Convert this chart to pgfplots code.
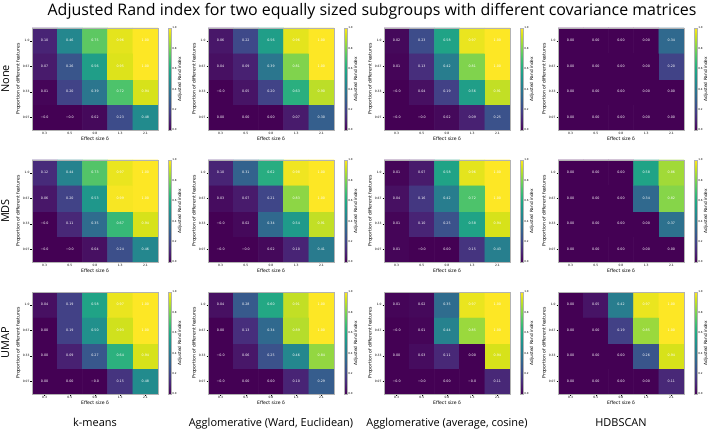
\documentclass[border=0pt]{standalone}
\usepackage{pgfplots}
\pgfplotsset{compat=1.18}
\usepackage{pgfplotstable}
\usepackage{fontspec}
\setmainfont{DejaVu Sans}
\newfontfamily\titlefont{Open Sans}

% ---------- data: x = effect size index, y = proportion index (0 = 0.07 ... 3 = 1.0), l = ARI
% (-0.004 stands for the small negative values that the chart prints as -0.0)
\pgfplotstableread{
x y l
0 0 -0.004
1 0 -0.004
2 0 0.02
3 0 0.23
4 0 0.48
0 1 0.01
1 1 0.20
2 1 0.39
3 1 0.72
4 1 0.94
0 2 0.07
1 2 0.26
2 2 0.56
3 2 0.95
4 2 1.00
0 3 0.10
1 3 0.46
2 3 0.75
3 3 0.96
4 3 1.00
}\tNoneKm
\pgfplotstableread{
x y l
0 0 0.00
1 0 0.00
2 0 0.00
3 0 0.07
4 0 0.30
0 1 -0.004
1 1 0.05
2 1 0.20
3 1 0.63
4 1 0.90
0 2 0.04
1 2 0.09
2 2 0.39
3 2 0.81
4 2 1.00
0 3 0.06
1 3 0.22
2 3 0.56
3 3 0.96
4 3 1.00
}\tNoneWard
\pgfplotstableread{
x y l
0 0 -0.004
1 0 -0.004
2 0 0.02
3 0 0.09
4 0 0.25
0 1 -0.004
1 1 0.04
2 1 0.19
3 1 0.56
4 1 0.91
0 2 0.01
1 2 0.13
2 2 0.42
3 2 0.81
4 2 1.00
0 3 0.02
1 3 0.23
2 3 0.58
3 3 0.97
4 3 1.00
}\tNoneAvg
\pgfplotstableread{
x y l
0 0 0.00
1 0 0.00
2 0 0.00
3 0 0.00
4 0 0.00
0 1 0.00
1 1 0.00
2 1 0.00
3 1 0.00
4 1 0.00
0 2 0.00
1 2 0.00
2 2 0.00
3 2 0.00
4 2 0.20
0 3 0.00
1 3 0.00
2 3 0.00
3 3 0.00
4 3 0.34
}\tNoneHdb
\pgfplotstableread{
x y l
0 0 -0.004
1 0 -0.004
2 0 0.04
3 0 0.24
4 0 0.46
0 1 -0.004
1 1 0.11
2 1 0.35
3 1 0.67
4 1 0.94
0 2 0.06
1 2 0.20
2 2 0.53
3 2 0.99
4 2 1.00
0 3 0.12
1 3 0.44
2 3 0.73
3 3 0.97
4 3 1.00
}\tMdsKm
\pgfplotstableread{
x y l
0 0 -0.004
1 0 -0.004
2 0 0.02
3 0 0.10
4 0 0.41
0 1 -0.004
1 1 0.02
2 1 0.34
3 1 0.54
4 1 0.91
0 2 0.03
1 2 0.07
2 2 0.21
3 2 0.83
4 2 1.00
0 3 0.10
1 3 0.31
2 3 0.62
3 3 0.98
4 3 1.00
}\tMdsWard
\pgfplotstableread{
x y l
0 0 0.01
1 0 -0.004
2 0 0.00
3 0 0.15
4 0 0.43
0 1 0.01
1 1 0.10
2 1 0.25
3 1 0.58
4 1 0.94
0 2 0.04
1 2 0.16
2 2 0.42
3 2 0.72
4 2 1.00
0 3 0.01
1 3 0.07
2 3 0.58
3 3 0.96
4 3 1.00
}\tMdsAvg
\pgfplotstableread{
x y l
0 0 0.00
1 0 0.00
2 0 0.00
3 0 0.00
4 0 0.00
0 1 0.00
1 1 0.00
2 1 0.00
3 1 0.00
4 1 0.37
0 2 0.00
1 2 0.00
2 2 0.00
3 2 0.34
4 2 0.82
0 3 0.00
1 3 0.00
2 3 0.00
3 3 0.58
4 3 0.86
}\tMdsHdb
\pgfplotstableread{
x y l
0 0 0.00
1 0 0.00
2 0 -0.004
3 0 0.15
4 0 0.48
0 1 0.00
1 1 0.09
2 1 0.27
3 1 0.64
4 1 0.94
0 2 0.00
1 2 0.19
2 2 0.50
3 2 0.93
4 2 1.00
0 3 0.04
1 3 0.19
2 3 0.58
3 3 0.97
4 3 1.00
}\tUmapKm
\pgfplotstableread{
x y l
0 0 -0.004
1 0 0.00
2 0 0.00
3 0 0.10
4 0 0.29
0 1 -0.004
1 1 0.06
2 1 0.25
3 1 0.46
4 1 0.84
0 2 0.00
1 2 0.13
2 2 0.34
3 2 0.89
4 2 1.00
0 3 0.04
1 3 0.28
2 3 0.60
3 3 0.91
4 3 1.00
}\tUmapWard
\pgfplotstableread{
x y l
0 0 -0.004
1 0 -0.004
2 0 0.00
3 0 -0.004
4 0 0.11
0 1 0.00
1 1 0.03
2 1 0.11
3 1 0.00
4 1 0.94
0 2 -0.004
1 2 0.01
2 2 0.44
3 2 0.85
4 2 1.00
0 3 0.01
1 3 0.02
2 3 0.35
3 3 0.97
4 3 1.00
}\tUmapAvg
\pgfplotstableread{
x y l
0 0 0.00
1 0 0.00
2 0 0.00
3 0 0.00
4 0 0.11
0 1 0.00
1 1 0.00
2 1 0.00
3 1 0.26
4 1 0.94
0 2 0.00
1 2 0.00
2 2 0.19
3 2 0.85
4 2 1.00
0 3 0.00
1 3 0.05
2 3 0.42
3 3 0.97
4 3 1.00
}\tUmapHdb

% label of a cell: the flag of pgf's float format is 2 for a negative number
\newcommand\arilabel{%
  \pgfmathfloatgetflagstomacro{\pgfplotspointmeta}{\ariflag}%
  \ifnum\ariflag=2 −0.0\else\pgfmathprintnumber[assume math mode=true,fixed,fixed zerofill,precision=2]{\pgfplotspointmeta}\fi}

\pgfplotsset{
  /pgf/number format/assume math mode=true,
  hm/.style={
    scale only axis, width=126bp, height=102bp, anchor=south west,
    xmin=-0.5, xmax=4.5, ymin=-0.5, ymax=3.5, enlargelimits=false,
    xtick={0,...,4}, xticklabels={0.3,0.5,0.8,1.3,2.1},
    ytick={0,...,3}, yticklabels={0.07,0.33,0.67,1.0},
    xtick pos=left, ytick pos=left,
    tick align=outside, major tick length=1.5bp,
    tick style={line width=0.3bp, black},
    ticklabel style={font=\fontsize{3}{3.5}\selectfont, inner sep=0.8bp},
    xlabel={Effect size δ}, ylabel={Proportion of different features},
    label style={font=\fontsize{4.6}{5}\selectfont},
    xlabel style={yshift=2bp}, ylabel style={yshift=-2bp},
    axis line style={draw=black!30, line width=0.4bp},
    axis on top,
    colormap/viridis, point meta min=0, point meta max=1,
    colorbar,
    colorbar style={
      at={(parent axis.north east)}, anchor=north west, xshift=1.5bp,
      scale only axis, width=3.5bp, height=102bp,
      ytick={0,0.2,0.4,0.6,0.8,1}, yticklabels={0.0,0.2,0.4,0.6,0.8,1.0},
      yticklabel pos=right, ylabel near ticks,
      yticklabel style={font=\fontsize{2.7}{3}\selectfont, inner sep=0.6bp},
      major tick length=1bp, tick style={line width=0.3bp, black},
      axis line style={draw=black!30, line width=0.4bp},
      ylabel={Adjusted Rand index},
      ylabel style={font=\fontsize{4.3}{5}\selectfont, inner sep=0.5bp},
    },
  },
  hmplot/.style={
    matrix plot*, mesh/cols=5, point meta=explicit,
    nodes near coords={\arilabel}, nodes near coords align={center},
    every node near coord/.append style={font=\fontsize{3.3}{3.8}\selectfont, text=white},
  },
}
\newcommand\hmp[1]{\addplot[hmplot] table[x=x, y=y, meta=l]{#1};}

\begin{document}
\begin{tikzpicture}
\path[use as bounding box] (0,0) rectangle (708bp,429bp);
\node[font=\titlefont\fontsize{16}{18}\selectfont, anchor=base] at (372bp,413bp)
  {Adjusted Rand index for two equally sized subgroups with different covariance matrices};
\foreach \lbl/\yy in {None/350, MDS/218, UMAP/86}
  \node[font=\titlefont\fontsize{11}{13}\selectfont, rotate=90, anchor=base] at (9bp,\yy bp) {\lbl};
\foreach \lbl/\xx in {k-means/95, {Agglomerative (Ward, Euclidean)}/271, {Agglomerative (average, cosine)}/447, HDBSCAN/621}
  \node[font=\titlefont\fontsize{11}{13}\selectfont, anchor=base] at (\xx bp,3bp) {\lbl};

\begin{axis}[hm, at={(32bp,299bp)}] \hmp{\tNoneKm} \end{axis}
\begin{axis}[hm, at={(208bp,299bp)}] \hmp{\tNoneWard} \end{axis}
\begin{axis}[hm, at={(384bp,299bp)}] \hmp{\tNoneAvg} \end{axis}
\begin{axis}[hm, at={(558bp,299bp)}] \hmp{\tNoneHdb} \end{axis}

\begin{axis}[hm, at={(32bp,167bp)}] \hmp{\tMdsKm} \end{axis}
\begin{axis}[hm, at={(208bp,167bp)}] \hmp{\tMdsWard} \end{axis}
\begin{axis}[hm, at={(384bp,167bp)}] \hmp{\tMdsAvg} \end{axis}
\begin{axis}[hm, at={(558bp,167bp)}] \hmp{\tMdsHdb} \end{axis}

\begin{axis}[hm, at={(32bp,35bp)}] \hmp{\tUmapKm} \end{axis}
\begin{axis}[hm, at={(208bp,35bp)}] \hmp{\tUmapWard} \end{axis}
\begin{axis}[hm, at={(384bp,35bp)}] \hmp{\tUmapAvg} \end{axis}
\begin{axis}[hm, at={(558bp,35bp)}] \hmp{\tUmapHdb} \end{axis}
\end{tikzpicture}
\end{document}
